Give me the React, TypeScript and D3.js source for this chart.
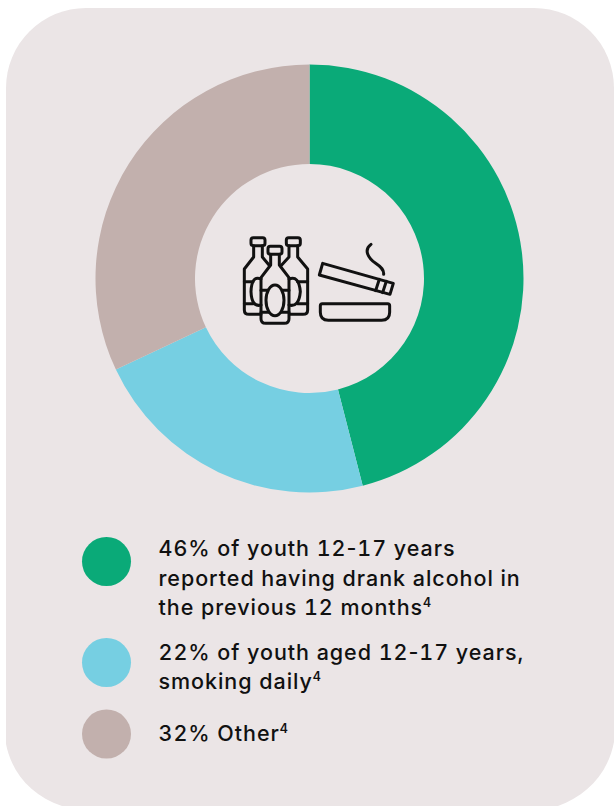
import React from "react";
import * as d3 from "d3";

const categories = ["Alcohol", "Smoking", "Other"];
const shareValues = [46, 22, 32];
const sliceColors = ["#0AAA78", "#76CFE2", "#C2B0AD"];
const legendLines = [
  ["46% of youth 12-17 years", "reported having drank alcohol in", "the previous 12 months"],
  ["22% of youth aged 12-17 years,", "smoking daily"],
  ["32% Other"],
];

const WIDTH = 614;
const HEIGHT = 806;
const CX = 309.5;
const CY = 278.5;
const OUTER = 214;
const INNER = 114.5;
const FONT = "Inter, 'Noto Sans', sans-serif";

const pie = d3.pie<number>().sort(null).value((d) => d);
const arc = d3.arc<d3.PieArcDatum<number>>().innerRadius(INNER).outerRadius(OUTER);

// Panel outline: rounded on all corners, running off the right and bottom edges of the page.
const panel = d3.path();
panel.moveTo(86, 8);
panel.lineTo(534, 8);
panel.arcTo(614, 8, 614, 88, 80);
panel.lineTo(614, 742);
panel.bezierCurveTo(608, 774, 586, 796, 558, 806);
panel.lineTo(62, 806);
panel.bezierCurveTo(32, 796, 12, 774, 6, 744);
panel.lineTo(6, 88);
panel.arcTo(6, 8, 86, 8, 80);
panel.closePath();

function Bottle({ cx, top, half, neck, capHalf, bottom }: { cx: number; top: number; half: number; neck: number; capHalf: number; bottom: number }) {
  const capH = 24;
  const neckEnd = top + capH + 32;
  const shoulder = neckEnd + 38;
  return (
    <g>
      <rect x={cx - capHalf} y={top} width={capHalf * 2} height={capH} rx={7} />
      <path
        d={`M${cx - neck},${top + capH} V${neckEnd} L${cx - half},${shoulder} V${bottom - 14} Q${cx - half},${bottom} ${cx - half + 14},${bottom} H${cx + half - 14} Q${cx + half},${bottom} ${cx + half},${bottom - 14} V${shoulder} L${cx + neck},${neckEnd} V${top + capH}`}
      />
    </g>
  );
}

function Icon() {
  return (
    <g
      transform="translate(225,225) scale(0.3333)"
      fill="none"
      stroke="#111"
      strokeWidth={9}
      strokeLinecap="round"
      strokeLinejoin="round"
    >
      {/* back-left bottle */}
      <rect x={78} y={38} width={42} height={24} rx={7} />
      <path d="M86,62 V96 L58,132 V255 Q58,268 72,268 H108 M112,62 V96 L132,120" />
      <path d="M58,170 H84 M58,236 H84" />
      <path d="M108,162 Q80,150 78,200 Q80,248 108,240" />
      {/* back-right bottle */}
      <rect x={184} y={38} width={42} height={24} rx={7} />
      <path d="M218,62 V96 L248,132 V255 Q248,268 234,268 H194 M192,62 V96 L170,120" />
      <path d="M248,170 H218 M248,236 H218" />
      <path d="M192,162 Q222,150 226,200 Q222,248 192,240" />
      {/* front bottle */}
      <Bottle cx={150} top={64} half={42} neck={13} capHalf={21} bottom={295} />
      <path d="M108,196 H192 M108,262 H192" />
      <ellipse cx={150} cy={226} rx={27} ry={46} fill="#EBE5E6" />
      {/* cigarette */}
      <path d="M293,115 L505,175 L495,208 L283,150 Z" />
      <path d="M463,163 L452,197 M484,169 L473,203" />
      <path d="M438,58 C415,75 430,100 452,115 C470,127 477,135 476,148" />
      {/* ashtray */}
      <path d="M292,236 H488 Q494,236 494,242 V262 Q494,286 470,286 H310 Q286,286 286,262 V242 Q286,236 292,236 Z" />
    </g>
  );
}

const rowLayout = [
  { dotY: 561.5, baselines: [556, 586, 615] },
  { dotY: 662.5, baselines: [660, 689] },
  { dotY: 734, baselines: [741] },
];

// Digits use tabular figures; the hyphen keeps its narrow proportional form.
function LineText({ line }: { line: string }) {
  const parts = line.split("-");
  return (
    <>
      {parts.map((part, k) => (
        <React.Fragment key={k}>
          {k > 0 ? <tspan style={{ fontVariantNumeric: "normal" }}>-</tspan> : null}
          {part}
        </React.Fragment>
      ))}
    </>
  );
}

export default function App() {
  const slices = pie(shareValues);
  return (
    <svg width={WIDTH} height={HEIGHT} style={{ position: "absolute", left: 0, top: 0, fontVariantNumeric: "tabular-nums" }} fontFamily={FONT}>
      <rect width={WIDTH} height={HEIGHT} fill="#fff" />
      <path d={panel.toString()} fill="#EBE5E6" />
      <g transform={`translate(${CX},${CY})`}>
        {slices.map((s, i) => (
          <path key={categories[i]} d={arc(s) ?? ""} fill={sliceColors[i]} />
        ))}
      </g>
      <Icon />
      {legendLines.map((lines, i) => (
        <g key={categories[i]}>
          <circle cx={106.5} cy={rowLayout[i].dotY} r={24.5} fill={sliceColors[i]} />
          {lines.map((line, j) => (
            <text key={j} x={158.5} y={rowLayout[i].baselines[j]} fontSize={21.5} fontWeight={500} letterSpacing={0.95} fill="#111">
              <LineText line={line} />
              {j === lines.length - 1 ? (
                <tspan fontSize={12.5} fontWeight={600} dy={-8} letterSpacing={0}>4</tspan>
              ) : null}
            </text>
          ))}
        </g>
      ))}
    </svg>
  );
}
